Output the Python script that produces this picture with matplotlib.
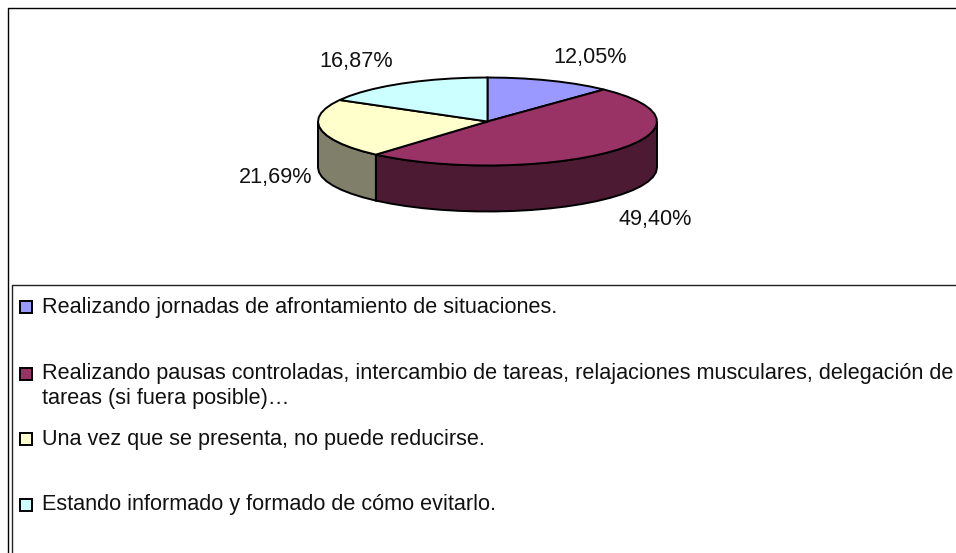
import numpy as np
import matplotlib
matplotlib.use('Agg')
import matplotlib.pyplot as plt
from matplotlib.patches import Polygon, Rectangle

plt.rcParams['font.family'] = ['Liberation Sans', 'DejaVu Sans']

values = [12.05, 49.40, 21.69, 16.87]
pct_labels = ['12,05%', '49,40%', '21,69%', '16,87%']
legend_labels = [
    'Realizando jornadas de afrontamiento de situaciones.',
    'Realizando pausas controladas, intercambio de tareas, relajaciones musculares, delegación de\ntareas (si fuera posible)…',
    'Una vez que se presenta, no puede reducirse.',
    'Estando informado y formado de cómo evitarlo.',
]
top_colors = ['#9999FF', '#993366', '#FFFFCC', '#CCFFFF']
side_colors = ['#4C4C80', '#4C1A33', '#80806A', '#668080']

# pie geometry in pixels
CX, CY = 487.5, 121.5
RX, RY = 169.5, 44
DEPTH = 46
TEXT_SIZE = 15.6


def rim(a0, a1):
    # angles in degrees, clockwise from 12 o'clock
    # coarse steps, the reference rim is a bit polygonal too
    t = np.radians(np.linspace(a0, a1, max(int((a1 - a0) / 6), 2) + 1))
    return CX + RX * np.sin(t), CY - RY * np.cos(t)


fig = plt.figure(figsize=(9.56, 5.53), dpi=100)
ax = fig.add_axes([0, 0, 1, 1])
ax.set_xlim(0, 956)
ax.set_ylim(553, 0)
ax.axis('off')

# frames
ax.plot([8, 8, 956], [553, 8, 8], color='black', lw=1)
ax.plot([12, 12, 956], [553, 285, 285], color='#222222', lw=1)

edges = np.concatenate([[0], np.cumsum(values)]) / sum(values) * 360

# side walls, only the front half of the rim shows
for i in range(len(values)):
    a0, a1 = max(edges[i], 90), min(edges[i + 1], 270)
    if a1 <= a0:
        continue
    x, y = rim(a0, a1)
    pts = np.r_[np.c_[x, y], np.c_[x[::-1], y[::-1] + DEPTH]]
    ax.add_patch(Polygon(pts, closed=True, fc=side_colors[i], ec='black', lw=1.4, zorder=2))

# top face
for i in range(len(values)):
    x, y = rim(edges[i], edges[i + 1])
    pts = np.r_[[[CX, CY]], np.c_[x, y]]
    ax.add_patch(Polygon(pts, closed=True, fc=top_colors[i], ec='black', lw=1.4, zorder=3))

# percent labels
label_pos = [(590, 57), (655, 219), (276, 178), (356, 61)]
for lab, (lx, ly) in zip(pct_labels, label_pos):
    ax.text(lx, ly, lab, ha='center', va='center', fontsize=TEXT_SIZE, color='#111111')

# legend
key_y = [306.5, 373.5, 439, 504.5]
base_y = [313, 379, 445, 510]
for i, lab in enumerate(legend_labels):
    ax.add_patch(Rectangle((20.5, key_y[i] - 6), 12, 12, fc=top_colors[i], ec='black', lw=1.4))
    ax.text(42, base_y[i], lab.split('\n')[0], fontsize=TEXT_SIZE, va='baseline', color='#111111')
    if '\n' in lab:
        ax.text(42, base_y[i] + 25, lab.split('\n')[1], fontsize=TEXT_SIZE, va='baseline', color='#111111')

fig.savefig('out.png', dpi=100)
